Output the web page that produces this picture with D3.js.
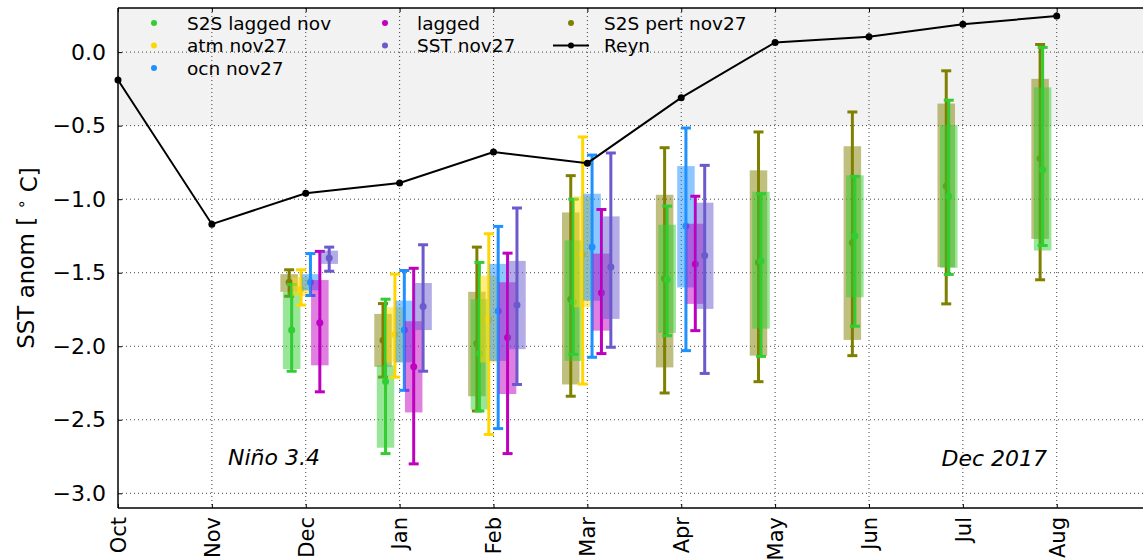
<!DOCTYPE html>
<html>
<head>
<meta charset="utf-8">
<script src="https://cdn.jsdelivr.net/npm/d3@7"></script>
<style>
  body { margin: 0; background: #fff; }
  svg { display: block; }
  text { font-family: "DejaVu Sans", sans-serif; fill: #000; }
</style>
</head>
<body>
<svg id="chart" width="1143" height="559"></svg>
<script>
// ---- data ----------------------------------------------------------------
const months = ["Oct", "Nov", "Dec", "Jan", "Feb", "Mar", "Apr", "May", "Jun", "Jul", "Aug"];
const yTicks = [-3.0, -2.5, -2.0, -1.5, -1.0, -0.5, 0.0];

// observed (Reynolds) Niño 3.4 anomaly, Oct..Aug
const reyn = [-0.19, -1.17, -0.96, -0.89, -0.68, -0.755, -0.31, 0.066, 0.104, 0.19, 0.245];

// forecast target months
const fcMonths = ["Dec", "Jan", "Feb", "Mar", "Apr", "May", "Jun", "Jul", "Aug"];

// S2S pert nov27
const pertMean  = [-1.565, -1.96, -1.98, -1.68, -1.54, -1.43, -1.296, -0.911, -0.724];
const pertBoxLo = [-1.63, -2.14, -2.34, -2.26, -2.144, -2.064, -1.957, -1.462, -1.27];
const pertBoxHi = [-1.51, -1.78, -1.63, -1.09, -0.97, -0.804, -0.64, -0.35, -0.182];
const pertMin   = [-1.66, -2.21, -2.44, -2.34, -2.318, -2.241, -2.064, -1.712, -1.548];
const pertMax   = [-1.48, -1.71, -1.326, -0.84, -0.65, -0.543, -0.407, -0.127, 0.052];

// S2S lagged nov
const s2sLagMean  = [-1.89, -2.24, -2.05, -1.70, -1.546, -1.42, -1.25, -0.98, -0.80];
const s2sLagBoxLo = [-2.155, -2.69, -2.43, -2.10, -1.91, -1.88, -1.667, -1.467, -1.349];
const s2sLagBoxHi = [-1.63, -2.13, -1.68, -1.28, -1.174, -0.95, -0.838, -0.497, -0.24];
const s2sLagMin   = [-2.17, -2.73, -2.44, -2.055, -1.928, -2.069, -1.864, -1.512, -1.315];
const s2sLagMax   = [-1.58, -1.68, -1.43, -1.0, -1.047, -0.963, -0.845, -0.327, 0.032];

// atm nov27
const atmMean  = [-1.61, -1.92, -1.82, -1.376, null, null, null, null, null];
const atmBoxLo = [-1.66, -2.11, -2.11, -1.735, null, null, null, null, null];
const atmBoxHi = [-1.53, -1.735, -1.52, -0.98, null, null, null, null, null];
const atmMin   = [-1.72, -2.21, -2.60, -2.257, null, null, null, null, null];
const atmMax   = [-1.48, -1.51, -1.235, -0.577, null, null, null, null, null];

// ocn nov27
const ocnMean  = [-1.565, -1.89, -1.76, -1.326, -1.183, null, null, null, null];
const ocnBoxLo = [-1.62, -2.11, -2.10, -1.69, -1.60, null, null, null, null];
const ocnBoxHi = [-1.51, -1.69, -1.44, -0.963, -0.775, null, null, null, null];
const ocnMin   = [-1.655, -2.30, -2.56, -2.075, -2.03, null, null, null, null];
const ocnMax   = [-1.37, -1.485, -1.185, -0.70, -0.516, null, null, null, null];

// lagged
const lagMean  = [-1.84, -2.14, -1.94, -1.637, -1.44, null, null, null, null];
const lagBoxLo = [-2.13, -2.45, -2.325, -1.894, -1.712, null, null, null, null];
const lagBoxHi = [-1.55, -1.83, -1.565, -1.37, -1.167, null, null, null, null];
const lagMin   = [-2.31, -2.80, -2.73, -2.05, -1.894, null, null, null, null];
const lagMax   = [-1.355, -1.47, -1.367, -1.07, -0.98, null, null, null, null];

// SST nov27
const sstMean  = [-1.40, -1.73, -1.72, -1.462, -1.383, null, null, null, null];
const sstBoxLo = [-1.44, -1.89, -2.02, -1.814, -1.746, null, null, null, null];
const sstBoxHi = [-1.35, -1.57, -1.42, -1.117, -1.024, null, null, null, null];
const sstMin   = [-1.49, -2.17, -2.26, -2.007, -2.185, null, null, null, null];
const sstMax   = [-1.326, -1.31, -1.06, -0.686, -0.77, null, null, null, null];

// ---- series table (drawing order) ----------------------------------------
const series = [
  { name: "S2S pert nov27", color: "#808000", off: -0.177, mean: pertMean, lo: pertBoxLo, hi: pertBoxHi, min: pertMin, max: pertMax },
  { name: "S2S lagged nov", color: "#32cd32", off: -0.15, mean: s2sLagMean, lo: s2sLagBoxLo, hi: s2sLagBoxHi, min: s2sLagMin, max: s2sLagMax },
  { name: "atm nov27", color: "#ffd700", off: -0.05, mean: atmMean, lo: atmBoxLo, hi: atmBoxHi, min: atmMin, max: atmMax },
  { name: "ocn nov27", color: "#1e90ff", off: 0.05, mean: ocnMean, lo: ocnBoxLo, hi: ocnBoxHi, min: ocnMin, max: ocnMax },
  { name: "lagged", color: "#bf00bf", off: 0.15, mean: lagMean, lo: lagBoxLo, hi: lagBoxHi, min: lagMin, max: lagMax },
  { name: "SST nov27", color: "#6a5acd", off: 0.25, mean: sstMean, lo: sstBoxLo, hi: sstBoxHi, min: sstMin, max: sstMax }
];

// ---- layout ----------------------------------------------------------------
const svg = d3.select("#chart");
const W = 1143, H = 559;
const plot = { left: 118, top: 8, right: 1150.6, bottom: 508 };

const x = d3.scaleLinear().domain([0, 11]).range([plot.left, plot.right]);
const y = d3.scaleLinear().domain([-3.1, 0.3]).range([plot.bottom, plot.top]);
const monthIdx = m => months.indexOf(m);

const g = svg.append("g");

// shaded band above -0.5
g.append("rect")
  .attr("x", plot.left).attr("y", y(0.3))
  .attr("width", plot.right - plot.left)
  .attr("height", y(-0.5) - y(0.3))
  .attr("fill", "#f2f2f2");

// dotted grid
const grid = g.append("g").attr("stroke", "#222").attr("stroke-width", 1)
  .attr("stroke-dasharray", "1,3").attr("opacity", 0.85);
grid.selectAll("line.v").data(d3.range(1, months.length)).join("line")
  .attr("x1", d => x(d)).attr("x2", d => x(d))
  .attr("y1", plot.top).attr("y2", plot.bottom);
grid.selectAll("line.h").data(yTicks).join("line")
  .attr("x1", plot.left).attr("x2", plot.right)
  .attr("y1", d => y(d)).attr("y2", d => y(d));

// ---- ensemble boxes, whiskers and means -----------------------------------
const boxW = 17.5, capW = 10;
series.forEach(s => {
  const pts = fcMonths.map((m, i) => ({
    xm: monthIdx(m) + s.off, mean: s.mean[i], lo: s.lo[i], hi: s.hi[i], min: s.min[i], max: s.max[i]
  })).filter(d => d.mean !== null);

  const sg = g.append("g");
  sg.selectAll("rect").data(pts).join("rect")
    .attr("x", d => x(d.xm) - boxW / 2)
    .attr("width", boxW)
    .attr("y", d => y(d.hi))
    .attr("height", d => y(d.lo) - y(d.hi))
    .attr("fill", s.color).attr("fill-opacity", 0.5);

  sg.selectAll("line.bar").data(pts).join("line").attr("class", "bar")
    .attr("x1", d => x(d.xm)).attr("x2", d => x(d.xm))
    .attr("y1", d => y(d.max)).attr("y2", d => y(d.min))
    .attr("stroke", s.color).attr("stroke-width", 3);

  ["min", "max"].forEach(k => {
    sg.selectAll("line.cap" + k).data(pts).join("line").attr("class", "cap" + k)
      .attr("x1", d => x(d.xm) - capW / 2).attr("x2", d => x(d.xm) + capW / 2)
      .attr("y1", d => y(d[k])).attr("y2", d => y(d[k]))
      .attr("stroke", s.color).attr("stroke-width", 3);
  });

  sg.selectAll("circle").data(pts).join("circle")
    .attr("cx", d => x(d.xm)).attr("cy", d => y(d.mean)).attr("r", 3.5)
    .attr("fill", s.color);
});

// ---- observed line ---------------------------------------------------------
const reynPts = reyn.map((v, i) => ({ i, v }));
g.append("path").datum(reynPts)
  .attr("d", d3.line().x(d => x(d.i)).y(d => y(d.v)))
  .attr("fill", "none").attr("stroke", "#000").attr("stroke-width", 2);
g.selectAll("circle.reyn").data(reynPts).join("circle").attr("class", "reyn")
  .attr("cx", d => x(d.i)).attr("cy", d => y(d.v)).attr("r", 3.5).attr("fill", "#000");

// ---- axes ------------------------------------------------------------------
const xAxis = svg.append("g").attr("transform", `translate(0,${plot.bottom})`)
  .call(d3.axisBottom(x).tickValues(d3.range(months.length)).tickFormat(i => months[i])
    .tickSizeInner(-4).tickSizeOuter(0).tickPadding(9));
xAxis.select(".domain").remove();
xAxis.selectAll("text")
  .attr("x", -9).attr("y", 0).attr("dy", "0.35em")
  .attr("transform", "rotate(-90)")
  .style("text-anchor", "end")
  .style("font-size", "21px");

const topAxis = svg.append("g").attr("transform", `translate(0,${plot.top})`)
  .call(d3.axisTop(x).tickValues(d3.range(months.length)).tickFormat("").tickSizeInner(-4).tickSizeOuter(0));
topAxis.select(".domain").remove();

const yAxis = svg.append("g").attr("transform", `translate(${plot.left},0)`)
  .call(d3.axisLeft(y).tickValues(yTicks).tickFormat(d3.format(".1f"))
    .tickSizeInner(-4).tickSizeOuter(0).tickPadding(12));
yAxis.select(".domain").remove();
yAxis.selectAll("text").style("font-size", "22px");

// frame
const frame = svg.append("g").attr("stroke", "#000").attr("stroke-width", 1.5).attr("fill", "none");
frame.append("line").attr("x1", plot.left).attr("x2", plot.right).attr("y1", plot.top).attr("y2", plot.top);
frame.append("line").attr("x1", plot.left).attr("x2", plot.right).attr("y1", plot.bottom).attr("y2", plot.bottom);
frame.append("line").attr("x1", plot.left).attr("x2", plot.left).attr("y1", plot.top).attr("y2", plot.bottom);

// y label with superscript degree ring
const yl = svg.append("text")
  .attr("transform", `translate(34,${(plot.top + plot.bottom) / 2}) rotate(-90)`)
  .attr("text-anchor", "middle")
  .style("font-size", "23px");
yl.append("tspan").text("SST anom [ ");
yl.append("tspan").attr("dy", "-0.45em").style("font-size", "16px").text("\u2218");
yl.append("tspan").attr("dy", "0.45em").text(" C]");

// annotations
svg.append("text").attr("x", 228).attr("y", 465)
  .style("font-size", "22px").style("font-style", "italic").text("Niño 3.4");
svg.append("text").attr("x", 1047).attr("y", 466).attr("text-anchor", "end")
  .style("font-size", "22px").style("font-style", "italic").text("Dec 2017");

// ---- legend ----------------------------------------------------------------
const legendItems = [
  { name: "S2S lagged nov", color: "#32cd32", col: 0, row: 0 },
  { name: "atm nov27", color: "#ffd700", col: 0, row: 1 },
  { name: "ocn nov27", color: "#1e90ff", col: 0, row: 2 },
  { name: "lagged", color: "#bf00bf", col: 1, row: 0 },
  { name: "SST nov27", color: "#6a5acd", col: 1, row: 1 },
  { name: "S2S pert nov27", color: "#808000", col: 2, row: 0 },
  { name: "Reyn", color: "#000", col: 2, row: 1, line: true }
];
const colMarkX = [154, 385, 571], colTextX = [187, 417, 604], rowY = [23, 45.5, 68];
const lg = svg.append("g");
legendItems.forEach(it => {
  const cy = rowY[it.row];
  if (it.line) {
    lg.append("line").attr("x1", colMarkX[it.col] - 18).attr("x2", colMarkX[it.col] + 18)
      .attr("y1", cy).attr("y2", cy).attr("stroke", it.color).attr("stroke-width", 2);
  }
  lg.append("circle").attr("cx", colMarkX[it.col]).attr("cy", cy).attr("r", 3).attr("fill", it.color);
  lg.append("text").attr("x", colTextX[it.col]).attr("y", cy).attr("dy", "0.36em")
    .style("font-size", "18.5px").text(it.name);
});
</script>
</body>
</html>
